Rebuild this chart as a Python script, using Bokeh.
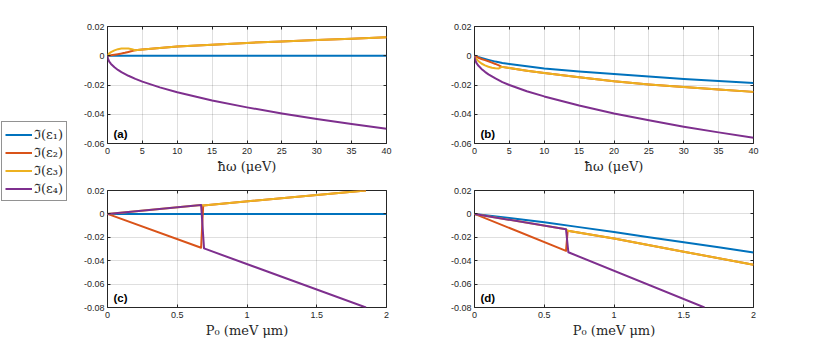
from bokeh.plotting import figure
from bokeh.models import (Range1d, FixedTicker, CustomJSTickFormatter, LinearAxis, Label)
from bokeh.layouts import row, column
from bokeh.embed import file_html
from bokeh.resources import INLINE

# ---------------- data ----------------
SERIES_LABELS = ["ℑ(ε₁)", "ℑ(ε₂)", "ℑ(ε₃)", "ℑ(ε₄)"]
COLORS = ["#0072BD", "#D95319", "#EDB120", "#7E2F8E"]

# panel (a)
A_X1 = [0, 40]
A_Y1 = [0, 0]
A_X2 = [0, 0.5, 1, 1.5, 2, 2.5, 3, 3.5, 3.95, 5, 7.5, 10, 15, 20, 25, 30, 35, 40]
A_Y2 = [0, 0.0003, 0.0007, 0.0011, 0.0015, 0.002, 0.0026, 0.0032, 0.0038, 0.0043, 0.0053,
        0.0063, 0.0076, 0.0088, 0.0098, 0.0107, 0.0117, 0.0127]
A_X3 = [0, 0.1, 0.25, 0.5, 1, 1.5, 2, 2.5, 3, 3.5, 3.95, 5, 7.5, 10, 15, 20, 25, 30, 35, 40]
A_Y3 = [0, 0.0009, 0.0016, 0.0025, 0.0037, 0.0045, 0.0049, 0.005, 0.0049, 0.0045, 0.0038,
        0.0043, 0.0053, 0.0063, 0.0076, 0.0088, 0.0098, 0.0107, 0.0117, 0.0127]
A_X4 = [0, 0.05, 0.25, 0.5, 1, 1.5, 2, 3, 4, 5, 7.5, 10, 15, 20, 25, 30, 35, 40]
A_Y4 = [0, -0.0018, -0.004, -0.0056, -0.0079, -0.0097, -0.0112, -0.0137, -0.0158, -0.0177,
        -0.0216, -0.025, -0.0306, -0.0353, -0.0395, -0.0433, -0.0467, -0.0499]

# panel (b)
B_X1 = [0, 0.5, 1, 2, 3, 4, 5, 7.5, 10, 15, 20, 25, 30, 35, 40]
B_Y1 = [0, -0.0008, -0.0015, -0.0028, -0.004, -0.0049, -0.0056, -0.0072, -0.0087, -0.0107,
        -0.0125, -0.0142, -0.0159, -0.0173, -0.0187]
B_X2 = [0, 0.5, 1, 1.5, 2, 2.5, 3, 3.5, 3.9, 5, 7.5, 10, 15, 20, 25, 30, 35, 40]
B_Y2 = [0, -0.0012, -0.0022, -0.003, -0.0038, -0.0047, -0.0056, -0.0066, -0.0076, -0.0084,
        -0.0102, -0.0118, -0.0147, -0.0175, -0.0196, -0.0214, -0.0231, -0.0247]
B_X3 = [0, 0.1, 0.25, 0.5, 1, 1.5, 2, 2.5, 3, 3.5, 3.9, 5, 7.5, 10, 15, 20, 25, 30, 35, 40]
B_Y3 = [0, -0.0012, -0.002, -0.0034, -0.0053, -0.0066, -0.0075, -0.0082, -0.0086, -0.0087,
        -0.0076, -0.0084, -0.0102, -0.0118, -0.0147, -0.0175, -0.0196, -0.0214, -0.0231, -0.0247]
B_X4 = [0, 0.05, 0.25, 0.5, 1, 1.5, 2, 3, 4, 5, 7.5, 10, 15, 20, 25, 30, 35, 40]
B_Y4 = [0, -0.0022, -0.0047, -0.0065, -0.009, -0.011, -0.0127, -0.0155, -0.018, -0.02,
        -0.0243, -0.0278, -0.034, -0.0395, -0.0441, -0.0485, -0.0524, -0.0561]

# panel (c)
C_X1 = [0, 2]
C_Y1 = [0, 0]
C_X2 = [0, 0.671, 0.686, 1.853]
C_Y2 = [0, -0.0289, 0.0072, 0.02]
C_X3 = [0, 0.671, 0.686, 1.853]
C_Y3 = [0, 0.0077, 0.0072, 0.02]
C_X4 = [0, 0.671, 0.692, 1.853]
C_Y4 = [0, 0.0077, -0.0295, -0.08]

# panel (d)
D_X1 = [0, 0.25, 0.5, 0.75, 1, 1.25, 1.5, 1.75, 2]
D_Y1 = [0, -0.0035, -0.0072, -0.0113, -0.0155, -0.0199, -0.0243, -0.0286, -0.0329]
D_X2 = [0, 0.656, 0.668, 1, 1.5, 2]
D_Y2 = [0, -0.0316, -0.0144, -0.021, -0.0323, -0.0435]
D_X3 = [0, 0.656, 0.668, 1, 1.5, 2]
D_Y3 = [0, -0.0132, -0.0144, -0.021, -0.0323, -0.0435]
D_X4 = [0, 0.656, 0.673, 1.649]
D_Y4 = [0, -0.0132, -0.0328, -0.08]

X_TICKS_W = [0, 5, 10, 15, 20, 25, 30, 35, 40]
Y_TICKS_TOP = [-0.06, -0.04, -0.02, 0, 0.02]
X_TICKS_P = [0, 0.5, 1, 1.5, 2]
Y_TICKS_BOT = [-0.08, -0.06, -0.04, -0.02, 0, 0.02]

XLABEL_W = "ħω (μeV)"
XLABEL_P = "P₀ (meV μm)"
TAGS = ["(a)", "(b)", "(c)", "(d)"]

# ---------------- styling ----------------
AX = "#262626"
TICK_FONT = "Liberation Sans"
SERIF = "DejaVu Serif"
FW, FH = 279, 117


def fmt():
    return CustomJSTickFormatter(code="return Number(tick.toFixed(4)).toString();")


def blank():
    return CustomJSTickFormatter(code="return '';")


def panel(xs, ys, xr, yr, xt, yt, xlabel, tag, bl, br, bt, bb):
    p = figure(width=bl + FW + br, height=bt + FH + bb,
               x_range=Range1d(*xr), y_range=Range1d(*yr),
               output_backend="svg", toolbar_location=None,
               min_border_left=bl, min_border_right=br,
               min_border_top=bt, min_border_bottom=bb,
               background_fill_color="white", border_fill_color="white")
    p.outline_line_color = AX
    p.outline_line_width = 1
    for ax, ticks in ((p.xaxis, xt), (p.yaxis, yt)):
        ax.ticker = FixedTicker(ticks=ticks)
        ax.formatter = fmt()
        ax.major_tick_in = 3
        ax.major_tick_out = 0
        ax.minor_tick_line_color = None
        ax.major_tick_line_color = AX
        ax.axis_line_color = None
        ax.major_label_text_font = TICK_FONT
        ax.major_label_text_font_size = "9px"
        ax.major_label_text_color = AX
    p.yaxis.major_label_standoff = 3
    p.xaxis.major_label_standoff = 4
    p.xaxis.axis_label = xlabel
    p.xaxis.axis_label_text_font = SERIF
    p.xaxis.axis_label_text_font_size = "13px"
    p.xaxis.axis_label_text_font_style = "normal"
    p.xaxis.axis_label_text_color = AX
    p.xaxis.axis_label_standoff = 2
    # mirrored ticks (box on)
    p.add_layout(LinearAxis(ticker=FixedTicker(ticks=yt), formatter=blank(),
                            major_tick_in=3, major_tick_out=0, axis_line_color=None,
                            minor_tick_line_color=None, major_tick_line_color=AX,
                            major_label_standoff=0), "right")
    p.add_layout(LinearAxis(ticker=FixedTicker(ticks=xt), formatter=blank(),
                            major_tick_in=3, major_tick_out=0, axis_line_color=None,
                            minor_tick_line_color=None, major_tick_line_color=AX,
                            major_label_standoff=0), "above")
    p.grid.grid_line_color = AX
    p.grid.grid_line_alpha = 0.15
    for x, y, c in zip(xs, ys, COLORS):
        p.line(x, y, line_color=c, line_width=2, line_join="round")
    p.add_layout(Label(x=6, y=4, x_units="screen", y_units="screen", text=tag,
                       text_font=TICK_FONT, text_font_style="bold",
                       text_font_size="11.5px", text_color="black"))
    return p


pa = panel([A_X1, A_X2, A_X3, A_X4], [A_Y1, A_Y2, A_Y3, A_Y4], (0, 40), (-0.06, 0.02),
           X_TICKS_W, Y_TICKS_TOP, XLABEL_W, TAGS[0], 27, 20, 26, 35)
pb = panel([B_X1, B_X2, B_X3, B_X4], [B_Y1, B_Y2, B_Y3, B_Y4], (0, 40), (-0.06, 0.02),
           X_TICKS_W, Y_TICKS_TOP, XLABEL_W, TAGS[1], 68, 12, 26, 35)
pc = panel([C_X1, C_X2, C_X3, C_X4], [C_Y1, C_Y2, C_Y3, C_Y4], (0, 2), (-0.08, 0.02),
           X_TICKS_P, Y_TICKS_BOT, XLABEL_P, TAGS[2], 27, 20, 12, 36)
pd = panel([D_X1, D_X2, D_X3, D_X4], [D_Y1, D_Y2, D_Y3, D_Y4], (0, 2), (-0.08, 0.02),
           X_TICKS_P, Y_TICKS_BOT, XLABEL_P, TAGS[3], 68, 12, 12, 36)

# legend holder (series drawn outside its visible range, only the legend shows)
LEG_H = 26 + FH + 35 + 12 + FH + 36
pl = figure(width=80, height=LEG_H, x_range=Range1d(0, 1), y_range=Range1d(0, 1),
            x_axis_type=None, y_axis_type=None,
            toolbar_location=None, output_backend="svg", min_border=0,
            outline_line_color=None)
for lab, c in zip(SERIES_LABELS, COLORS):
    pl.line([5, 6], [5, 6], line_color=c, line_width=2, legend_label=lab)
lg = pl.legend[0]
lg.location = (1, LEG_H - 201)
lg.border_line_color = AX
lg.border_line_width = 1
lg.background_fill_color = "white"
lg.background_fill_alpha = 1
lg.label_text_font = SERIF
lg.label_text_font_size = "13px"
lg.label_text_color = AX
lg.glyph_width = 27
lg.glyph_height = 13
lg.label_height = 13
lg.label_standoff = 2
lg.spacing = 0
lg.padding = 3
lg.margin = 0

layout = row(pl, column(pa, pc), column(pb, pd))

open("out.html", "w").write(file_html(layout, INLINE))
